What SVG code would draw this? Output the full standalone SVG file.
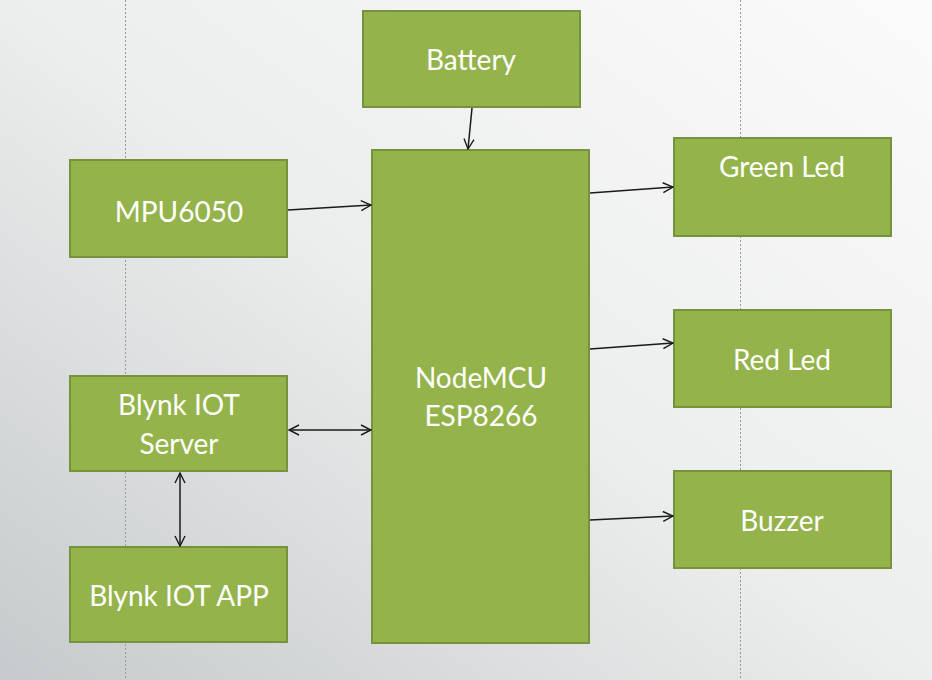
<svg xmlns="http://www.w3.org/2000/svg" width="932" height="680" viewBox="0 0 932 680">
<defs>
<linearGradient id="bg" x1="1" y1="0" x2="0" y2="1">
<stop offset="0" stop-color="#fbfbfb"/>
<stop offset="0.5" stop-color="#eceded"/>
<stop offset="1" stop-color="#c6cacc"/>
</linearGradient>
<marker id="arr" viewBox="0 0 12 12" refX="11" refY="6" markerWidth="12" markerHeight="12" markerUnits="userSpaceOnUse" orient="auto-start-reverse">
<path d="M1,1 L11,6 L1,11" fill="none" stroke="#1a1a1a" stroke-width="1.4"/>
</marker>
<style>
.box{fill:#95b34b;stroke:#76923c;stroke-width:2}
.t{fill:#ffffff;font-family:Lato,"Open Sans",sans-serif;font-size:28px;text-anchor:middle}
.c{stroke:#1a1a1a;stroke-width:1.5;fill:none}
.g{stroke:#9a9a9a;stroke-width:1;stroke-dasharray:2,2}
</style>
</defs>
<rect x="0" y="0" width="932" height="680" fill="url(#bg)"/>
<line class="g" x1="125.5" y1="0" x2="125.5" y2="680"/>
<line class="g" x1="740.5" y1="0" x2="740.5" y2="680"/>
<g id="battery"><rect class="box" x="363" y="11" width="217" height="96"/><text class="t" x="471" y="70">Battery</text></g>
<g id="nodemcu"><rect class="box" x="372" y="150" width="217" height="493"/><text class="t" x="481" y="388">NodeMCU</text><text class="t" x="481" y="426">ESP8266</text></g>
<g id="mpu6050"><rect class="box" x="70" y="160" width="217" height="97"/><text class="t" x="179" y="222">MPU6050</text></g>
<g id="blynk-server"><rect class="box" x="70" y="376" width="217" height="95"/><text class="t" x="179" y="415">Blynk IOT</text><text class="t" x="179" y="454">Server</text></g>
<g id="blynk-app"><rect class="box" x="70" y="547" width="217" height="95"/><text class="t" x="179" y="606">Blynk IOT APP</text></g>
<g id="green-led"><rect class="box" x="674" y="138" width="217" height="98"/><text class="t" x="782" y="177">Green Led</text></g>
<g id="red-led"><rect class="box" x="674" y="310" width="217" height="97"/><text class="t" x="782" y="370">Red Led</text></g>
<g id="buzzer"><rect class="box" x="674" y="471" width="217" height="97"/><text class="t" x="782" y="531">Buzzer</text></g>
<g id="connectors">
<line class="c" x1="472" y1="108" x2="468" y2="149" marker-end="url(#arr)"/>
<line class="c" x1="288" y1="210" x2="371" y2="205" marker-end="url(#arr)"/>
<line class="c" x1="289" y1="430" x2="371" y2="430" marker-start="url(#arr)" marker-end="url(#arr)"/>
<line class="c" x1="180" y1="473" x2="180" y2="546" marker-start="url(#arr)" marker-end="url(#arr)"/>
<line class="c" x1="590" y1="193" x2="673" y2="187" marker-end="url(#arr)"/>
<line class="c" x1="590" y1="349" x2="673" y2="343" marker-end="url(#arr)"/>
<line class="c" x1="590" y1="520" x2="673" y2="516" marker-end="url(#arr)"/>
</g>
</svg>
